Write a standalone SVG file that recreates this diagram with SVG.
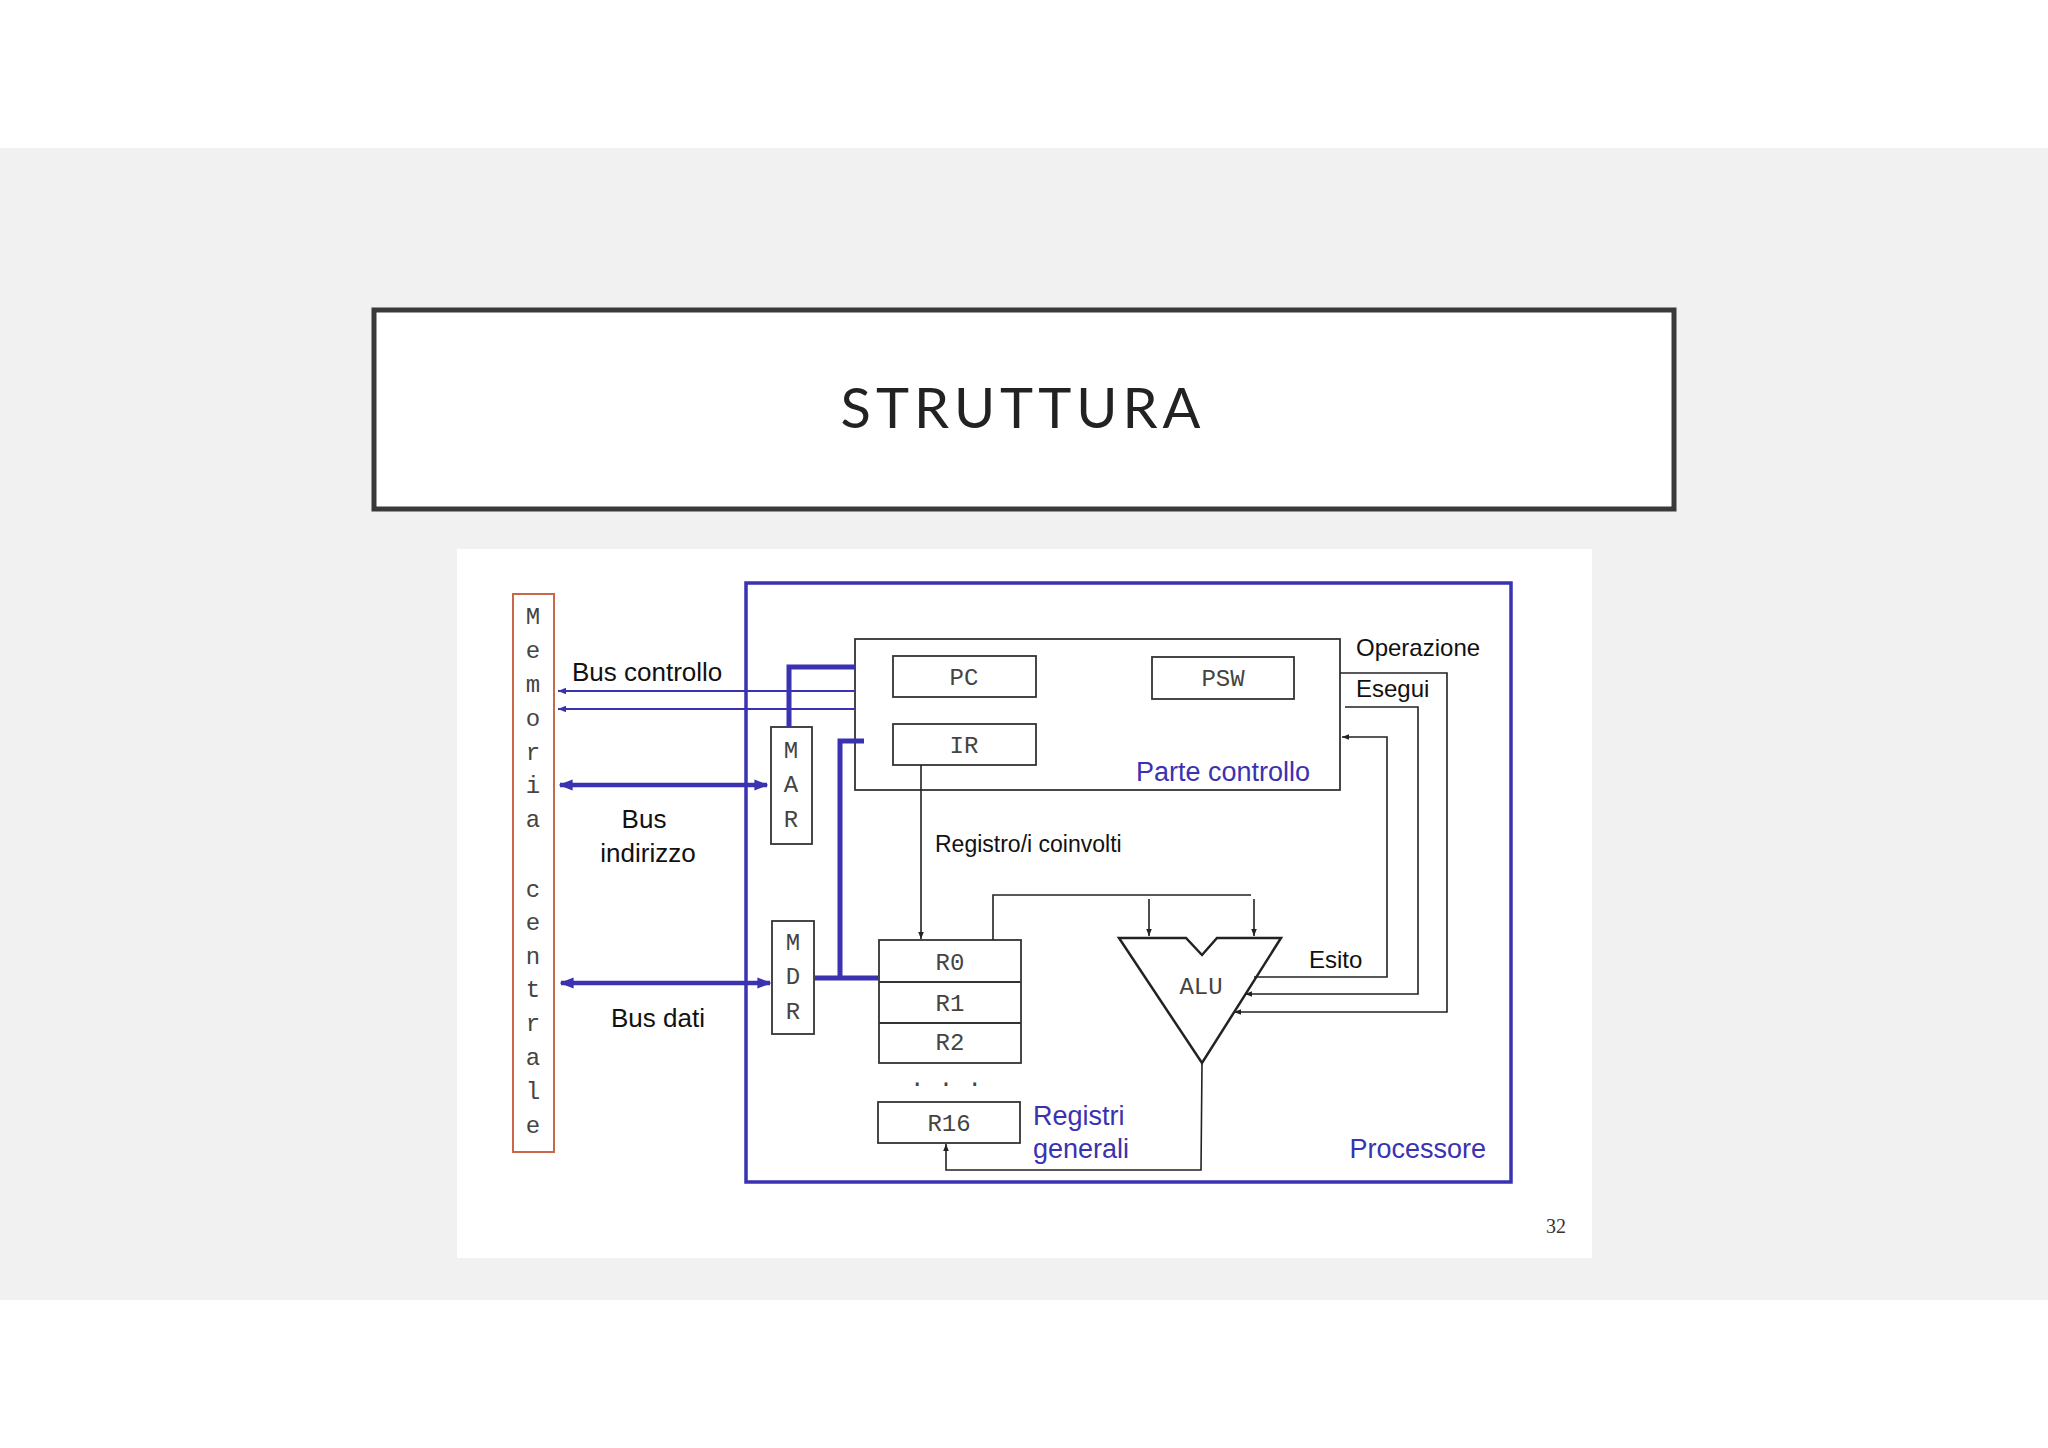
<svg xmlns="http://www.w3.org/2000/svg" width="2048" height="1448" viewBox="0 0 2048 1448">
<defs>
<style>
.bl{stroke:#3a32b0;fill:none}
.k{stroke:#222;fill:none;stroke-width:1.6}
.box{fill:#fff;stroke:#333;stroke-width:1.8}
.mono{font-family:"Liberation Mono",monospace;font-size:24px;fill:#444;text-anchor:middle}
.sans{font-family:"Liberation Sans",Arial,sans-serif;fill:#111}
.blt{font-family:"Liberation Sans",Arial,sans-serif;fill:#3a32b0;font-size:27px}
</style>
<marker id="ak" viewBox="0 0 10 10" refX="10" refY="5" markerWidth="7" markerHeight="7" orient="auto-start-reverse" markerUnits="userSpaceOnUse"><path d="M0,1 L10,5 L0,9z" fill="#222"/></marker>
<marker id="ab" viewBox="0 0 10 10" refX="10" refY="5" markerWidth="8" markerHeight="8" orient="auto-start-reverse" markerUnits="userSpaceOnUse"><path d="M0,1 L10,5 L0,9z" fill="#3a32b0"/></marker>
<marker id="abb" viewBox="0 0 10 10" refX="9" refY="5" markerWidth="14" markerHeight="14" orient="auto-start-reverse" markerUnits="userSpaceOnUse"><path d="M0,1 L10,5 L0,9z" fill="#3a32b0"/></marker>
</defs>
<rect width="2048" height="1448" fill="#fff"/>
<rect y="148" width="2048" height="1152" fill="#f1f1f1"/>
<g id="title"><rect x="374" y="310" width="1300" height="199" fill="#fff" stroke="#3a3a3a" stroke-width="5"/>
<text x="1023" y="428" text-anchor="middle" font-family="Lato,'Open Sans',sans-serif" font-size="56" letter-spacing="5" fill="#222">STRUTTURA</text></g>
<rect x="457" y="549" width="1135" height="709" fill="#fff"/>
<g id="processore"><rect x="746" y="583" width="765" height="599" class="bl" stroke-width="3.5"/>
<text x="1486" y="1158" class="blt" text-anchor="end">Processore</text></g>
<g id="memoria"><rect x="513" y="594" width="41" height="558" fill="#fff" stroke="#c8674a" stroke-width="2"/>
<g class="mono" font-size="25">
<text x="533" y="624">M</text><text x="533" y="658">e</text><text x="533" y="692">m</text><text x="533" y="726">o</text><text x="533" y="760">r</text><text x="533" y="793">i</text><text x="533" y="827">a</text>
<text x="533" y="897">c</text><text x="533" y="930">e</text><text x="533" y="964">n</text><text x="533" y="997">t</text><text x="533" y="1031">r</text><text x="533" y="1065">a</text><text x="533" y="1099">l</text><text x="533" y="1133">e</text></g></g>
<g id="controllo"><rect x="855" y="639" width="485" height="151" class="box"/>
<text x="1310" y="781" class="blt" text-anchor="end">Parte controllo</text></g>
<g id="pc"><rect x="893" y="656" width="143" height="41" class="box"/><text x="964" y="685" class="mono">PC</text></g>
<g id="psw"><rect x="1152" y="657" width="142" height="42" class="box"/><text x="1223" y="686" class="mono">PSW</text></g>
<g id="ir"><rect x="893" y="724" width="143" height="41" class="box"/><text x="964" y="753" class="mono">IR</text></g>
<g id="mar"><rect x="771" y="727" width="41" height="117" class="box" stroke="#555"/>
<text x="791" y="758" class="mono">M</text><text x="791" y="792" class="mono">A</text><text x="791" y="827" class="mono">R</text></g>
<g id="mdr"><rect x="772" y="921" width="42" height="113" class="box" stroke="#555"/>
<text x="793" y="950" class="mono">M</text><text x="793" y="984" class="mono">D</text><text x="793" y="1019" class="mono">R</text></g>
<g id="registri"><rect x="879" y="940" width="142" height="123" class="box"/>
<line x1="879" y1="982" x2="1021" y2="982" stroke="#333" stroke-width="1.8"/><line x1="879" y1="1023" x2="1021" y2="1023" stroke="#333" stroke-width="1.8"/>
<text x="950" y="970" class="mono">R0</text><text x="950" y="1011" class="mono">R1</text><text x="950" y="1050" class="mono">R2</text>
<text x="946" y="1086" class="mono">. . .</text>
<rect x="878" y="1102" width="142" height="41" class="box"/><text x="949" y="1131" class="mono">R16</text>
<text x="1033" y="1125" class="blt">Registri</text><text x="1033" y="1158" class="blt">generali</text></g>
<g id="alu"><path d="M1119,938 L1186,938 L1202,955 L1217,938 L1281,938 L1202,1063 Z" fill="#fff" stroke="#222" stroke-width="2.5"/>
<text x="1201" y="994" class="mono">ALU</text></g>
<g id="connectors">
<text x="572" y="681" class="sans" font-size="26">Bus controllo</text>
<text x="644" y="828" class="sans" font-size="26" text-anchor="middle">Bus</text>
<text x="648" y="862" class="sans" font-size="26" text-anchor="middle">indirizzo</text>
<text x="658" y="1027" class="sans" font-size="26" text-anchor="middle">Bus dati</text>
<text x="935" y="852" class="sans" font-size="23">Registro/i coinvolti</text>
<text x="1356" y="656" class="sans" font-size="24">Operazione</text>
<text x="1356" y="697" class="sans" font-size="24">Esegui</text>
<text x="1309" y="968" class="sans" font-size="24">Esito</text>
<line x1="855" y1="691" x2="558" y2="691" class="bl" stroke-width="2" marker-end="url(#ab)"/>
<line x1="855" y1="709" x2="558" y2="709" class="bl" stroke-width="2" marker-end="url(#ab)"/>
<polyline points="855,667 789,667 789,727" class="bl" stroke-width="5"/>
<line x1="560" y1="785" x2="767" y2="785" class="bl" stroke-width="4.5" marker-start="url(#abb)" marker-end="url(#abb)"/>
<line x1="561" y1="983" x2="770" y2="983" class="bl" stroke-width="4.5" marker-start="url(#abb)" marker-end="url(#abb)"/>
<line x1="815" y1="978" x2="878" y2="978" class="bl" stroke-width="5"/>
<polyline points="840,978 840,741 864,741" class="bl" stroke-width="5"/>
<line x1="921" y1="765" x2="921" y2="939" class="k" marker-end="url(#ak)"/>
<polyline points="993,940 993,895 1251,895" class="k"/>
<line x1="1149" y1="899" x2="1149" y2="936" class="k" marker-end="url(#ak)"/>
<line x1="1254" y1="899" x2="1254" y2="936" class="k" marker-end="url(#ak)"/>
<polyline points="1202,1064 1201,1170 946,1170 946,1144" class="k" marker-end="url(#ak)"/>
<polyline points="1254,977 1387,977 1387,737 1342,737" class="k" marker-end="url(#ak)"/>
<polyline points="1345,707 1418,707 1418,994 1245,994" class="k" marker-end="url(#ak)"/>
<polyline points="1340,673 1447,673 1447,1012 1234,1012" class="k" marker-end="url(#ak)"/>
</g>
<text x="1556" y="1233" font-family="'Liberation Serif',serif" font-size="20" fill="#333" text-anchor="middle">32</text>
</svg>
